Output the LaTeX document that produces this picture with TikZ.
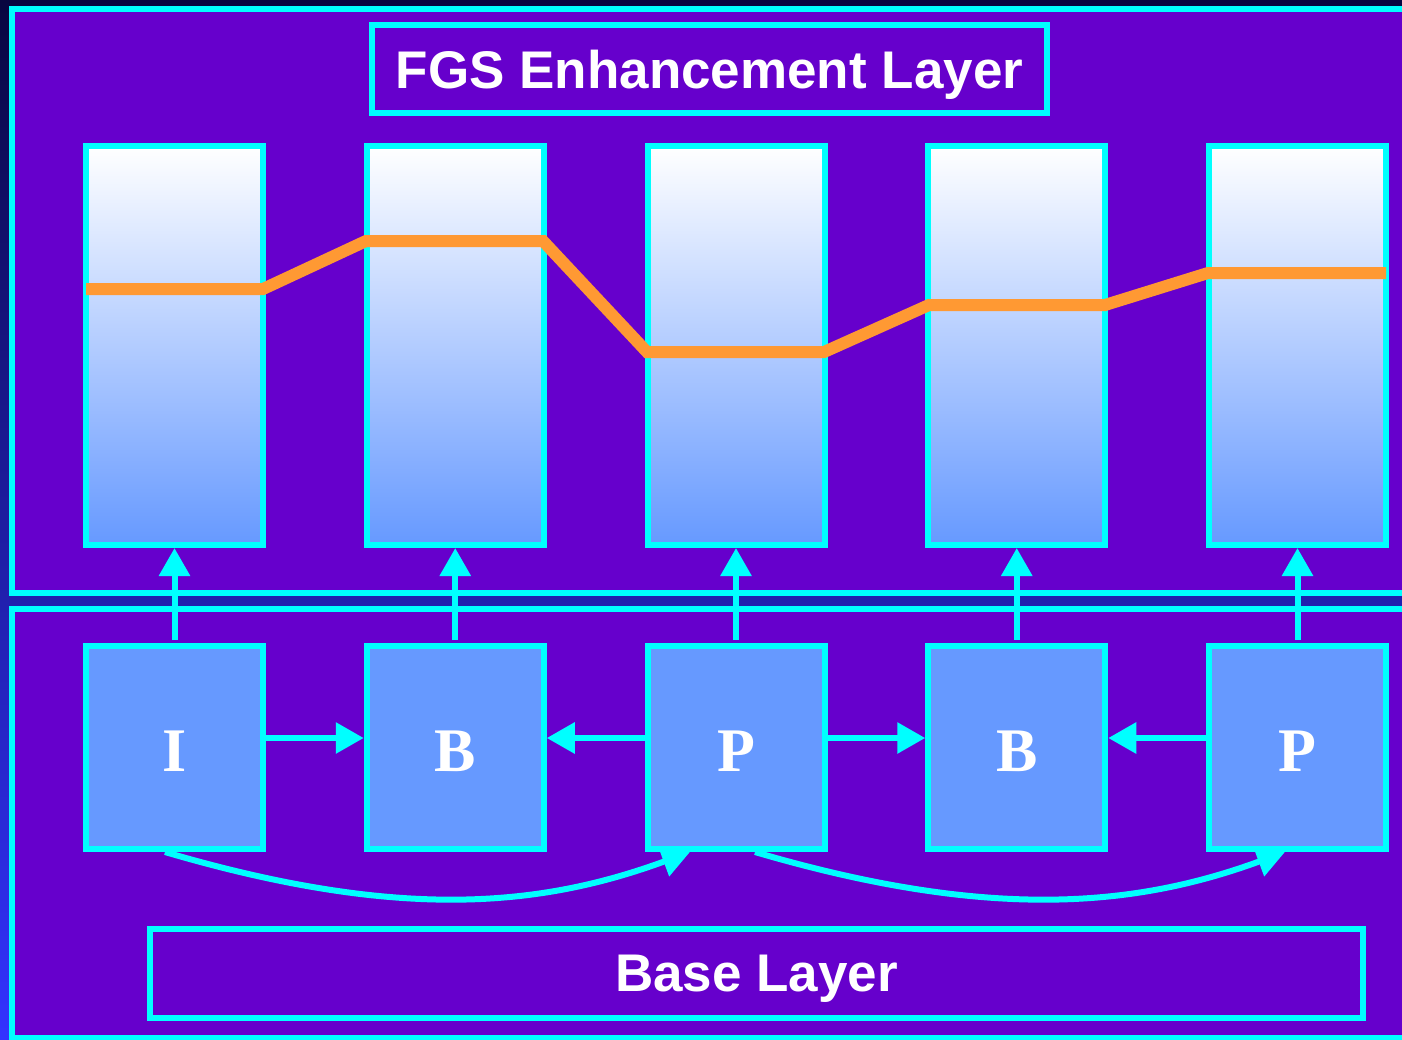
\documentclass[tikz,border=0pt]{standalone}
\usepackage{fontspec}
\setmainfont{Liberation Serif}
\setsansfont{Liberation Sans}
\usetikzlibrary{arrows.meta}
\definecolor{cyanline}{HTML}{00FFFF}
\definecolor{layerfill}{HTML}{6600CC}
\definecolor{framefill}{HTML}{6699FF}
\definecolor{rateline}{HTML}{FF9933}
\definecolor{bgtop}{HTML}{080640}
\definecolor{bgmid}{HTML}{2424BE}
\definecolor{bgbot}{HTML}{3333FF}
\begin{document}
\begin{tikzpicture}[x=1pt,y=-1pt,
  box/.style={draw=cyanline, line width=6pt, inner sep=0pt},
  enhbar/.style={box, minimum width=177pt, minimum height=399pt,
                 top color=white, bottom color=framefill},
  frame/.style={box, fill=framefill, minimum width=177pt, minimum height=203pt,
                text=white, text height=47pt, text depth=0pt,
                font=\fontsize{62}{62}\selectfont\bfseries},
  layertitle/.style={box, fill=layerfill, text=white, text depth=0pt,
                font=\sffamily\bfseries\fontsize{53}{53}\selectfont},
  dep/.style={draw=cyanline, line width=6pt, -{Triangle[length=28pt,width=30pt]}},
  rate/.style={draw=rateline, line width=12pt},
]
\useasboundingbox (0,0) rectangle (1402,1039);
\clip (0,0) rectangle (1402,1039);

% backdrop and the two layer panels
\fill[top color=bgtop, middle color=bgmid, bottom color=bgbot] (0,0) rectangle (1402,1039);
\draw[cyanline, line width=6pt, fill=layerfill] (12,9) rectangle (1420,593);
\draw[cyanline, line width=6pt, fill=layerfill] (12,609) rectangle (1420,1038);

% layer captions
\node[layertitle, minimum width=675pt, minimum height=88pt] (fgs) at (709.5,69) {FGS Enhancement Layer};
\node[layertitle, minimum width=1213pt, minimum height=89pt] (base) at (756.5,973.5) {Base Layer};

% enhancement-layer bit planes
\node[enhbar] (e1) at (174.5,345.5) {};
\node[enhbar] (e2) at (455.25,345.5) {};
\node[enhbar] (e3) at (736,345.5) {};
\node[enhbar] (e4) at (1016.75,345.5) {};
\node[enhbar] (e5) at (1297.5,345.5) {};

% truncation level of each frame
\draw[rate] (86,289) -- (263,289) -- (366,241) -- (543,241) -- (647,352)
  -- (824,352) -- (929,305) -- (1105,305) -- (1208,273) -- (1386,273);

% base-layer frames
\node[frame] (f1) at (174.5,747.5) {I};
\node[frame] (f2) at (455.25,747.5) {B};
\node[frame] (f3) at (736,747.5) {P};
\node[frame] (f4) at (1016.75,747.5) {B};
\node[frame] (f5) at (1297.5,747.5) {P};

% base frame -> its enhancement layer
\foreach \i in {1,...,5}
  \draw[dep] ([yshift=3pt]f\i.north) -- (e\i.south);

% bidirectional prediction
\draw[dep] ([yshift=9.5pt]f1.east) -- ([yshift=9.5pt]f2.west);
\draw[dep] ([yshift=9.5pt]f3.west) -- ([yshift=9.5pt]f2.east);
\draw[dep] ([yshift=9.5pt]f3.east) -- ([yshift=9.5pt]f4.west);
\draw[dep] ([yshift=9.5pt]f5.west) -- ([yshift=9.5pt]f4.east);

% forward prediction of P frames
\draw[dep] ([xshift=-9.5pt]f1.south) .. controls +(235,69) and +(-150,55) .. ([xshift=-46pt]f3.south);
\draw[dep] ([xshift=19pt]f3.south) .. controls +(235,69) and +(-150,55) .. ([xshift=-12.5pt]f5.south);
\end{tikzpicture}
\end{document}
